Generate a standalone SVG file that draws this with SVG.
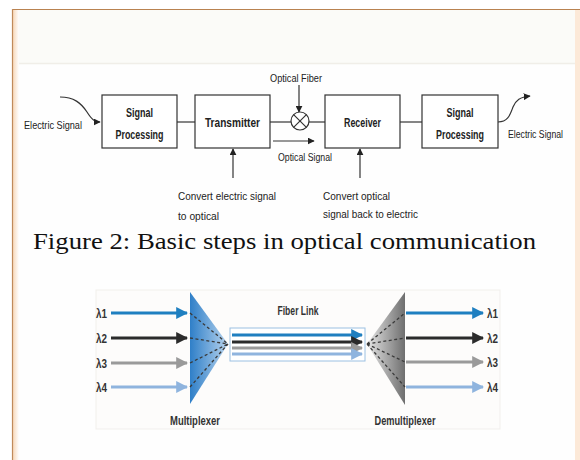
<svg xmlns="http://www.w3.org/2000/svg" width="580" height="460" viewBox="0 0 580 460">
<defs>
<style>
.lbl{font-family:"Liberation Sans",Arial,sans-serif;font-size:11.5px;fill:#222}
.bx{font-family:"Liberation Sans",Arial,sans-serif;font-size:12.5px;font-weight:bold;fill:#222;text-anchor:middle}
.box{fill:#fff;stroke:#333;stroke-width:1.2}
.ln{stroke:#333;stroke-width:1.2;fill:none}
.wl{font-family:"Liberation Sans",Arial,sans-serif;font-size:13px;font-weight:bold;fill:#333}
.dash{stroke:#3a3a3a;stroke-width:1.3;stroke-dasharray:3,2.5;fill:none}
</style>
<marker id="ah" viewBox="0 0 10 10" refX="9" refY="5" markerWidth="7" markerHeight="7" markerUnits="userSpaceOnUse" orient="auto"><path d="M0,0 L10,5 L0,10 z" fill="#222"/></marker>
<marker id="aB" viewBox="0 0 10 10" refX="9" refY="5" markerWidth="4" markerHeight="4" orient="auto"><path d="M0,0 L10,5 L0,10 z" fill="#1f7fc0"/></marker>
<marker id="aK" viewBox="0 0 10 10" refX="9" refY="5" markerWidth="4" markerHeight="4" orient="auto"><path d="M0,0 L10,5 L0,10 z" fill="#2b2b2b"/></marker>
<marker id="aG" viewBox="0 0 10 10" refX="9" refY="5" markerWidth="4" markerHeight="4" orient="auto"><path d="M0,0 L10,5 L0,10 z" fill="#9a9a9a"/></marker>
<marker id="aL" viewBox="0 0 10 10" refX="9" refY="5" markerWidth="4" markerHeight="4" orient="auto"><path d="M0,0 L10,5 L0,10 z" fill="#8fb4de"/></marker>
<linearGradient id="mux" x1="0" y1="0" x2="1" y2="0"><stop offset="0" stop-color="#2f7fc8"/><stop offset="1" stop-color="#b8d4ee"/></linearGradient>
<linearGradient id="dmx" x1="0" y1="0" x2="1" y2="0"><stop offset="0" stop-color="#e6e6e6"/><stop offset="1" stop-color="#6e6e6e"/></linearGradient>
<linearGradient id="edgeL" x1="0" y1="0" x2="1" y2="0"><stop offset="0" stop-color="#f8d9bb"/><stop offset="1" stop-color="#fefefe"/></linearGradient>
</defs>
<rect width="580" height="460" fill="#fff"/>
<!-- page frame -->
<rect x="13" y="10" width="567" height="450" fill="#fefefe"/>
<rect x="13" y="10" width="562" height="53" fill="#fbfbf8"/>
<line x1="18" y1="63.5" x2="575" y2="63.5" stroke="#f0eee8" stroke-width="1.5"/>
<rect x="13" y="10" width="6" height="450" fill="url(#edgeL)"/>
<rect x="575" y="10" width="5" height="450" fill="#fce9d8"/>
<line x1="12" y1="9.5" x2="580" y2="9.5" stroke="#b98250" stroke-width="1"/>
<line x1="12.5" y1="9" x2="12.5" y2="460" stroke="#c08a5a" stroke-width="1.2"/>

<!-- top diagram -->
<g id="connectors">
<path class="ln" d="M60,97 C74,97 81,103 87,112 C92,120 95,122 100,122" marker-end="url(#ah)"/>
<line class="ln" x1="177" y1="122" x2="195" y2="122"/>
<line class="ln" x1="270" y1="122" x2="291" y2="122"/>
<line class="ln" x1="309" y1="122" x2="325" y2="122"/>
<line class="ln" x1="299" y1="85" x2="299" y2="112" marker-end="url(#ah)"/>
<line class="ln" x1="273" y1="141" x2="314" y2="141" marker-end="url(#ah)"/>
<line class="ln" x1="400" y1="122" x2="422" y2="122"/>
<path class="ln" d="M498,122 C508,122 510,115 513,107 C516,100 520,97 530,96" marker-end="url(#ah)"/>
<line class="ln" x1="233" y1="178" x2="233" y2="149" marker-end="url(#ah)"/>
<line class="ln" x1="360" y1="178" x2="360" y2="149" marker-end="url(#ah)"/>
</g>
<g id="electric-in"><text class="lbl" x="24" y="129" textLength="58" lengthAdjust="spacingAndGlyphs">Electric Signal</text></g>
<g id="sp1"><rect class="box" x="102" y="95" width="75" height="53"/><text class="bx" x="139.5" y="117" textLength="27" lengthAdjust="spacingAndGlyphs">Signal</text><text class="bx" x="139.5" y="139" textLength="48" lengthAdjust="spacingAndGlyphs">Processing</text></g>
<g id="tx"><rect class="box" x="195" y="95" width="75" height="53"/><text class="bx" x="232.5" y="127" textLength="55" lengthAdjust="spacingAndGlyphs">Transmitter</text></g>
<g id="fiber"><circle cx="300" cy="121" r="9" fill="#fff" stroke="#333" stroke-width="1.2"/><path class="ln" d="M293.6,114.6 L306.4,127.4 M306.4,114.6 L293.6,127.4"/><text class="lbl" x="296" y="82" text-anchor="middle" textLength="52" lengthAdjust="spacingAndGlyphs">Optical Fiber</text></g>
<g id="optsig"><text class="lbl" x="305" y="161" text-anchor="middle" textLength="54" lengthAdjust="spacingAndGlyphs">Optical Signal</text></g>
<g id="rx"><rect class="box" x="325" y="95" width="75" height="53"/><text class="bx" x="362.5" y="127" textLength="37" lengthAdjust="spacingAndGlyphs">Receiver</text></g>
<g id="sp2"><rect class="box" x="422" y="95" width="76" height="53"/><text class="bx" x="460" y="117" textLength="27" lengthAdjust="spacingAndGlyphs">Signal</text><text class="bx" x="460" y="139" textLength="48" lengthAdjust="spacingAndGlyphs">Processing</text></g>
<g id="electric-out"><text class="lbl" x="508" y="138" textLength="55" lengthAdjust="spacingAndGlyphs">Electric Signal</text></g>
<g id="note-tx"><text class="lbl" x="178" y="200" textLength="98" lengthAdjust="spacingAndGlyphs">Convert electric signal</text><text class="lbl" x="178" y="220" textLength="41" lengthAdjust="spacingAndGlyphs">to optical</text></g>
<g id="note-rx"><text class="lbl" x="323" y="200" textLength="67" lengthAdjust="spacingAndGlyphs">Convert optical</text><text class="lbl" x="323" y="218" textLength="95" lengthAdjust="spacingAndGlyphs">signal back to electric</text></g>

<text x="33" y="249" font-family="'Liberation Serif','Times New Roman',serif" font-size="24" fill="#111" textLength="503" lengthAdjust="spacingAndGlyphs">Figure 2: Basic steps in optical communication</text>

<!-- bottom diagram -->
<rect x="96" y="290" width="404" height="139" fill="#fdfcfb" stroke="#f1efec" stroke-width="1"/>
<g id="wdm-connectors">
<line x1="111" y1="313" x2="187" y2="313" stroke="#1f7fc0" stroke-width="3" marker-end="url(#aB)"/>
<line x1="111" y1="338" x2="187" y2="338" stroke="#2b2b2b" stroke-width="3" marker-end="url(#aK)"/>
<line x1="111" y1="363" x2="187" y2="363" stroke="#9a9a9a" stroke-width="3" marker-end="url(#aG)"/>
<line x1="111" y1="387" x2="187" y2="387" stroke="#8fb4de" stroke-width="3" marker-end="url(#aL)"/>
<line x1="406" y1="313" x2="483" y2="313" stroke="#1f7fc0" stroke-width="3" marker-end="url(#aB)"/>
<line x1="406" y1="338" x2="483" y2="338" stroke="#2b2b2b" stroke-width="3" marker-end="url(#aK)"/>
<line x1="406" y1="362" x2="483" y2="362" stroke="#9a9a9a" stroke-width="3" marker-end="url(#aG)"/>
<line x1="406" y1="387" x2="483" y2="387" stroke="#8fb4de" stroke-width="3" marker-end="url(#aL)"/>
</g>
<g id="mux-node">
<polygon points="190,292 228,344 190,404" fill="url(#mux)"/>
<path class="dash" d="M190,313 L228,344 M190,338 L228,344 M190,363 L228,344 M190,387 L228,344"/>
<text class="wl" x="195" y="425" text-anchor="middle" textLength="50" lengthAdjust="spacingAndGlyphs">Multiplexer</text>
</g>
<g id="fiber-link">
<rect x="230" y="328" width="135" height="33" fill="#fff" stroke="#9cc0e2" stroke-width="1"/>
<line x1="232" y1="335" x2="362" y2="335" stroke="#1f7fc0" stroke-width="3" marker-end="url(#aB)"/>
<line x1="232" y1="342" x2="362" y2="342" stroke="#2b2b2b" stroke-width="3" marker-end="url(#aK)"/>
<line x1="232" y1="348" x2="362" y2="348" stroke="#9a9a9a" stroke-width="3" marker-end="url(#aG)"/>
<line x1="232" y1="354" x2="362" y2="354" stroke="#8fb4de" stroke-width="3" marker-end="url(#aL)"/>
<text class="wl" x="298" y="315" text-anchor="middle" textLength="41" lengthAdjust="spacingAndGlyphs">Fiber Link</text>
</g>
<g id="demux-node">
<polygon points="405,292 367,344 405,405" fill="url(#dmx)"/>
<path class="dash" d="M367,344 L405,313 M367,344 L405,338 M367,344 L405,362 M367,344 L405,387"/>
<text class="wl" x="405" y="425" text-anchor="middle" textLength="61" lengthAdjust="spacingAndGlyphs">Demultiplexer</text>
</g>
<g id="lambda-in">
<text class="wl" x="96" y="318" textLength="11" lengthAdjust="spacingAndGlyphs">λ1</text><text class="wl" x="96" y="343" textLength="11" lengthAdjust="spacingAndGlyphs">λ2</text><text class="wl" x="96" y="368" textLength="11" lengthAdjust="spacingAndGlyphs">λ3</text><text class="wl" x="96" y="392" textLength="11" lengthAdjust="spacingAndGlyphs">λ4</text>
</g>
<g id="lambda-out">
<text class="wl" x="487" y="318" textLength="11" lengthAdjust="spacingAndGlyphs">λ1</text><text class="wl" x="487" y="343" textLength="11" lengthAdjust="spacingAndGlyphs">λ2</text><text class="wl" x="487" y="367" textLength="11" lengthAdjust="spacingAndGlyphs">λ3</text><text class="wl" x="487" y="392" textLength="11" lengthAdjust="spacingAndGlyphs">λ4</text>
</g>
</svg>
